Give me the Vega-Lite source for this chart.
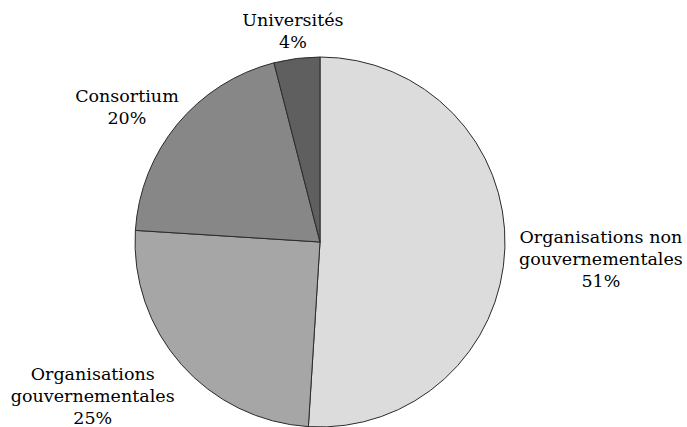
{
  "$schema": "https://vega.github.io/schema/vega-lite/v6.json",
  "width": 640,
  "height": 370,
  "autosize": {"type": "none"},
  "padding": {"left": 0, "top": 57, "right": 47, "bottom": 0},
  "background": "white",
  "view": {"stroke": null},
  "data": {
    "values": [
      {"cat": "ONG", "o": 1, "value": 51, "label": "Organisations non\ngouvernementales\n51%"},
      {"cat": "GOV", "o": 2, "value": 25, "label": "Organisations\ngouvernementales\n25%"},
      {"cat": "CONS", "o": 3, "value": 20, "label": "Consortium\n20%"},
      {"cat": "UNIV", "o": 4, "value": 4, "label": "Universités\n4%"}
    ]
  },
  "encoding": {
    "theta": {"field": "value", "type": "quantitative", "stack": true},
    "order": {"field": "o", "type": "quantitative"}
  },
  "layer": [
    {
      "mark": {"type": "arc", "outerRadius": 185, "stroke": "#2b2b2b", "strokeWidth": 1},
      "encoding": {
        "color": {
          "field": "cat", "type": "nominal", "legend": null,
          "scale": {"domain": ["ONG", "GOV", "CONS", "UNIV"], "range": ["#dcdcdc", "#a6a6a6", "#878787", "#5f5f5f"]}
        }
      }
    },
    {
      "mark": {"type": "text", "radius": 281, "dy": -13, "font": "DejaVu Serif", "fontSize": 17.5, "lineBreak": "\n", "lineHeight": 22, "align": "center", "baseline": "middle", "color": "#000"},
      "encoding": {
        "text": {"field": "label"},
        "opacity": {"condition": {"test": "datum.cat === 'ONG'", "value": 1}, "value": 0}
      }
    },
    {
      "mark": {"type": "text", "radius": 275, "dx": -21, "dy": -49, "font": "DejaVu Serif", "fontSize": 17.5, "lineBreak": "\n", "lineHeight": 22, "align": "center", "baseline": "middle", "color": "#000"},
      "encoding": {
        "text": {"field": "label"},
        "opacity": {"condition": {"test": "datum.cat === 'GOV'", "value": 1}, "value": 0}
      }
    },
    {
      "mark": {"type": "text", "radius": 235, "dx": -12, "dy": 5, "font": "DejaVu Serif", "fontSize": 17.5, "lineBreak": "\n", "lineHeight": 22, "align": "center", "baseline": "middle", "color": "#000"},
      "encoding": {
        "text": {"field": "label"},
        "opacity": {"condition": {"test": "datum.cat === 'CONS'", "value": 1}, "value": 0}
      }
    },
    {
      "mark": {"type": "text", "radius": 216, "dy": -7, "font": "DejaVu Serif", "fontSize": 17.5, "lineBreak": "\n", "lineHeight": 22, "align": "center", "baseline": "middle", "color": "#000"},
      "encoding": {
        "text": {"field": "label"},
        "opacity": {"condition": {"test": "datum.cat === 'UNIV'", "value": 1}, "value": 0}
      }
    }
  ]
}
